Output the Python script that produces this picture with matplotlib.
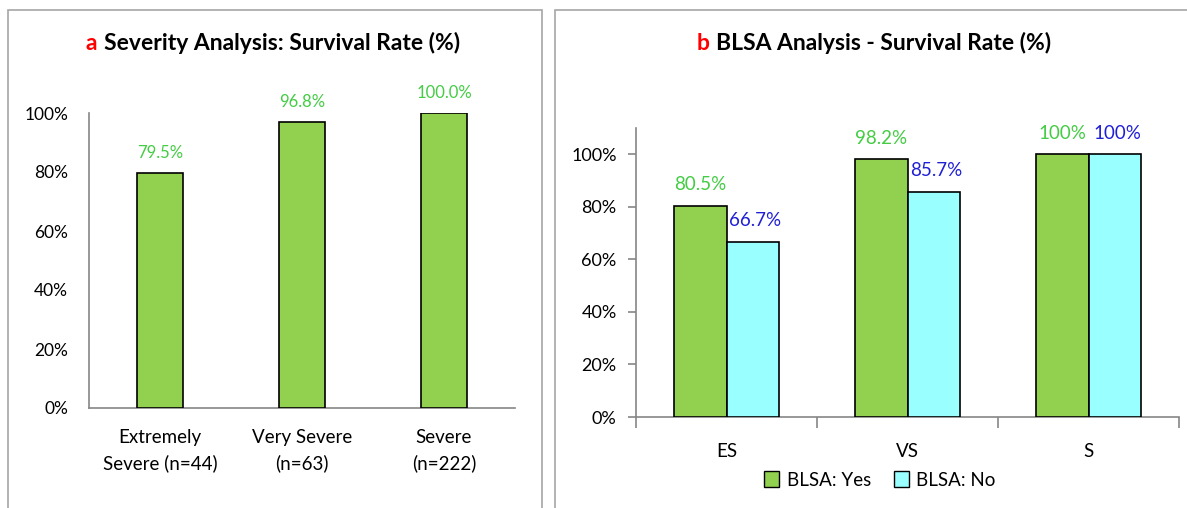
import matplotlib
matplotlib.use("Agg")
import matplotlib.pyplot as plt
from matplotlib.patches import Rectangle, Patch
from matplotlib.offsetbox import TextArea, HPacker, AnnotationBbox
from matplotlib.ticker import PercentFormatter, FixedLocator

plt.rcParams['font.family'] = ['Lato', 'DejaVu Sans']

# panel a data
sev_labels = ["Extremely\nSevere (n=44)", "Very Severe\n(n=63)", "Severe\n(n=222)"]
sev_rate = [79.5, 96.8, 100.0]

# panel b data
blsa_cats = ["ES", "VS", "S"]
blsa_yes = [80.5, 98.2, 100.0]
blsa_no = [66.7, 85.7, 100.0]
yes_text = ["80.5%", "98.2%", "100%"]
no_text = ["66.7%", "85.7%", "100%"]

GREEN = "#92D050"
CYAN = "#99FFFF"
LBL_GREEN = "#44cc44"
LBL_BLUE = "#1f1fd6"
AXC = "#868686"

W, H = 1187, 508
fig = plt.figure(figsize=(W / 100, H / 100), dpi=100)

# panel borders
for x0, x1 in [(8, 542), (555, 1195)]:
    fig.patches.append(Rectangle((x0 / W, -0.05), (x1 - x0) / W, (H - 10) / H + 0.05,
                                 transform=fig.transFigure, fill=False,
                                 edgecolor="#a6a6a6", lw=1.2))


def title(x, letter, rest):
    box = HPacker(children=[
        TextArea(letter, textprops=dict(color="#ff0000", fontsize=16.5, fontweight="bold")),
        TextArea(rest, textprops=dict(color="black", fontsize=16.5, fontweight="bold")),
    ], pad=0, sep=5)
    ab = AnnotationBbox(box, (x, 1 - 43 / H), xycoords="figure fraction",
                        frameon=False, box_alignment=(0.5, 0.5))
    fig.add_artist(ab)


def style(ax):
    for s in ["top", "right"]:
        ax.spines[s].set_visible(False)
    for s in ["left", "bottom"]:
        ax.spines[s].set_color(AXC)
        ax.spines[s].set_linewidth(1.2)


# ---- panel a
ax1 = fig.add_axes([89 / W, 100 / H, (515 - 89) / W, (408 - 113) / H])
xs = range(len(sev_rate))
ax1.bar(xs, sev_rate, width=0.32, color=GREEN, edgecolor="black", lw=1.2, zorder=3)
for x, v in zip(xs, sev_rate):
    ax1.annotate(f"{v:.1f}%", (x, v), xytext=(0, 9), textcoords="offset points",
                 ha="center", va="bottom", color=LBL_GREEN, fontsize=12)
ax1.set_xlim(-0.5, 2.5)
ax1.set_ylim(0, 100)
ax1.yaxis.set_major_locator(FixedLocator([0, 20, 40, 60, 80, 100]))
ax1.yaxis.set_major_formatter(PercentFormatter(decimals=0))
ax1.set_xticks(list(xs))
ax1.set_xticklabels(sev_labels, linespacing=1.55)
ax1.tick_params(axis="both", length=0, labelsize=12.5, colors="black")
ax1.tick_params(axis="x", labelsize=13.5, pad=15)
ax1.tick_params(axis="y", pad=15)
style(ax1)
ax1.spines["left"].set_bounds(0, 100)
title(273 / W, "a", "Severity Analysis: Survival Rate (%)")

# ---- panel b
ax2 = fig.add_axes([636 / W, 91 / H, (1179 - 636) / W, (417 - 128) / H])
xs2 = range(len(blsa_cats))
bw = 0.29
ax2.bar([x - bw / 2 for x in xs2], blsa_yes, width=bw, color=GREEN,
        edgecolor="black", lw=1.2, zorder=3)
ax2.bar([x + bw / 2 for x in xs2], blsa_no, width=bw, color=CYAN,
        edgecolor="black", lw=1.2, zorder=3)
for x, v, t in zip(xs2, blsa_yes, yes_text):
    ax2.annotate(t, (x - bw / 2, v), xytext=(0, 9), textcoords="offset points",
                 ha="center", va="bottom", color=LBL_GREEN, fontsize=13.5)
for x, v, t in zip(xs2, blsa_no, no_text):
    ax2.annotate(t, (x + bw / 2, v), xytext=(2, 9), textcoords="offset points",
                 ha="center", va="bottom", color=LBL_BLUE, fontsize=13.5)
ax2.set_xlim(-0.5, 2.5)
ax2.set_ylim(0, 110)
ax2.yaxis.set_major_locator(FixedLocator([0, 20, 40, 60, 80, 100]))
ax2.yaxis.set_major_formatter(PercentFormatter(decimals=0))
ax2.set_xticks(list(xs2))
ax2.set_xticklabels(blsa_cats)
ax2.set_xticks([-0.5, 0.5, 1.5, 2.5], minor=True)
ax2.tick_params(axis="x", which="major", length=0, labelsize=13.5, pad=19)
ax2.tick_params(axis="x", which="minor", length=8, color=AXC, width=1.2)
ax2.tick_params(axis="y", length=6, color=AXC, width=1.2, labelsize=13, pad=8)
style(ax2)

fig.legend(handles=[Patch(facecolor=GREEN, edgecolor="black", label="BLSA: Yes"),
                    Patch(facecolor=CYAN, edgecolor="black", label="BLSA: No")],
           loc="center", bbox_to_anchor=(880 / W, 1 - 480 / H), ncol=2, frameon=False,
           fontsize=13.5, handlelength=0.8, handleheight=0.9, handletextpad=0.4,
           columnspacing=1.2)
title(874 / W, "b", "BLSA Analysis - Survival Rate (%)")

fig.savefig("out.png", dpi=100)
